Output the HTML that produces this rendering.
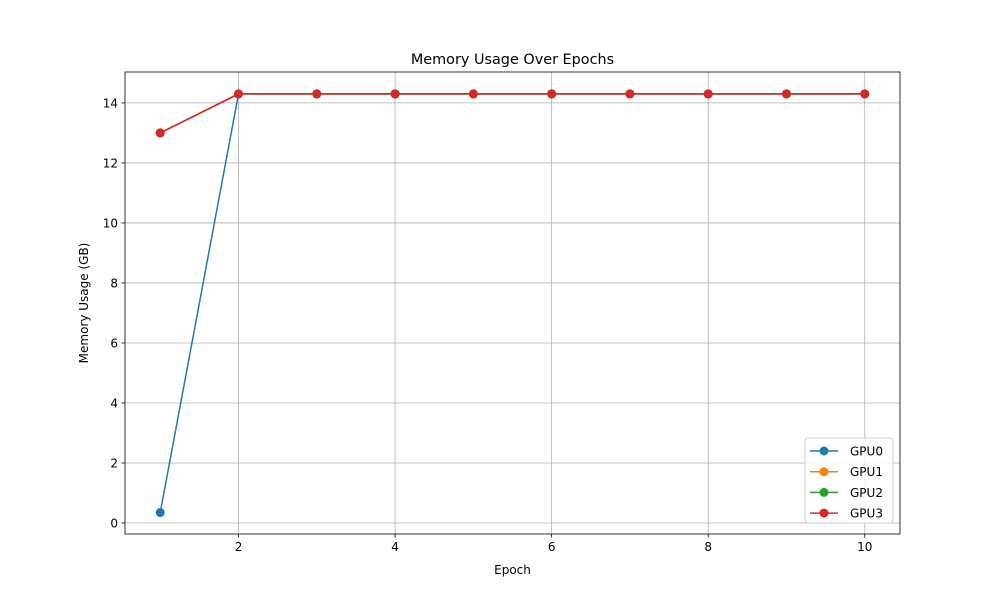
<!DOCTYPE html>
<html><head><meta charset="utf-8"><style>body{margin:0;background:#fff}svg{font-family:"DejaVu Sans","Liberation Sans",sans-serif}</style></head>
<body>
<svg id="chart" width="1000" height="600"></svg>
<script>
const epochs=[1,2,3,4,5,6,7,8,9,10];
const gpu0=[0.35,14.3,14.3,14.3,14.3,14.3,14.3,14.3,14.3,14.3];
const gpu1=[13.0,14.3,14.3,14.3,14.3,14.3,14.3,14.3,14.3,14.3];
const gpu2=[13.0,14.3,14.3,14.3,14.3,14.3,14.3,14.3,14.3,14.3];
const gpu3=[13.0,14.3,14.3,14.3,14.3,14.3,14.3,14.3,14.3,14.3];
const seriesNames=["GPU0","GPU1","GPU2","GPU3"];
const colors=["#1f77b4","#ff7f0e","#2ca02c","#d62728"];
const xTicks=[2,4,6,8,10];
const yTicks=[0,2,4,6,8,10,12,14];
const L=125,R=900,T=72,B=534;
const xmin=0.55,xmax=10.45,ymin=-0.366,ymax=15.03;
const sx=v=>L+(v-xmin)/(xmax-xmin)*(R-L);
const sy=v=>B-(v-ymin)/(ymax-ymin)*(B-T);
const svg=document.getElementById('chart');
const NS="http://www.w3.org/2000/svg";
function mk(t,a,name,parent){const e=document.createElementNS(NS,t);for(const k in a)e.setAttribute(k,a[k]);


(parent||svg).appendChild(e);return e;}
mk('rect',{x:L,y:T,width:R-L,height:B-T,fill:'#fff'},'plot-area');
xTicks.forEach(t=>{const x=sx(t);
mk('line',{x1:x,x2:x,y1:T,y2:B,stroke:'#b0b0b0','stroke-width':0.8},'x-grid-line');
mk('line',{x1:x,x2:x,y1:B,y2:B+3.5,stroke:'#000','stroke-width':0.8},'x-tick');
const tx=mk('text',{x:x,y:B+17,'text-anchor':'middle','font-size':12},'x-tick-label');tx.textContent=t;});
yTicks.forEach(t=>{const y=sy(t);
mk('line',{x1:L,x2:R,y1:y,y2:y,stroke:'#b0b0b0','stroke-width':0.8},'y-grid-line');
mk('line',{x1:L-3.5,x2:L,y1:y,y2:y,stroke:'#000','stroke-width':0.8},'y-tick');
const tx=mk('text',{x:L-7,y:y+4.5,'text-anchor':'end','font-size':12},'y-tick-label');tx.textContent=t;});
[gpu0,gpu1,gpu2,gpu3].forEach((d,i)=>{
mk('polyline',{points:d.map((v,j)=>sx(epochs[j])+','+sy(v)).join(' '),fill:'none',stroke:colors[i],'stroke-width':1.5},'line-'+seriesNames[i].toLowerCase());
d.forEach((v,j)=>mk('circle',{cx:sx(epochs[j]),cy:sy(v),r:4.5,fill:colors[i]},'point-'+seriesNames[i].toLowerCase()));});
mk('rect',{x:L,y:T,width:R-L,height:B-T,fill:'none',stroke:'#000','stroke-width':0.8},'axes-frame');
let t=mk('text',{x:(L+R)/2,y:T-8,'text-anchor':'middle','font-size':14.4},'chart-title');t.textContent='Memory Usage Over Epochs';
t=mk('text',{x:(L+R)/2,y:574,'text-anchor':'middle','font-size':12},'x-axis-title');t.textContent='Epoch';
t=mk('text',{x:0,y:0,'text-anchor':'middle','font-size':12,transform:`translate(88,${(T+B)/2}) rotate(-90)`},'y-axis-title');t.textContent='Memory Usage (GB)';
const lg=mk('g',{},'legend');
mk('rect',{x:805,y:438,width:88,height:85,rx:3,fill:'#fff','fill-opacity':0.8,stroke:'#ccc'},'legend-box',lg);
seriesNames.forEach((n,i)=>{const y=451+i*20.7;
const g=mk('g',{},'legend-entry',lg);
mk('line',{x1:810,x2:838,y1:y,y2:y,stroke:colors[i],'stroke-width':1.5},'legend-line',g);
mk('circle',{cx:824,cy:y,r:4.5,fill:colors[i]},'legend-marker',g);
const tx=mk('text',{x:850,y:y+4.5,'font-size':12},'legend-label',g);tx.textContent=n;});
</script>
</body></html>
